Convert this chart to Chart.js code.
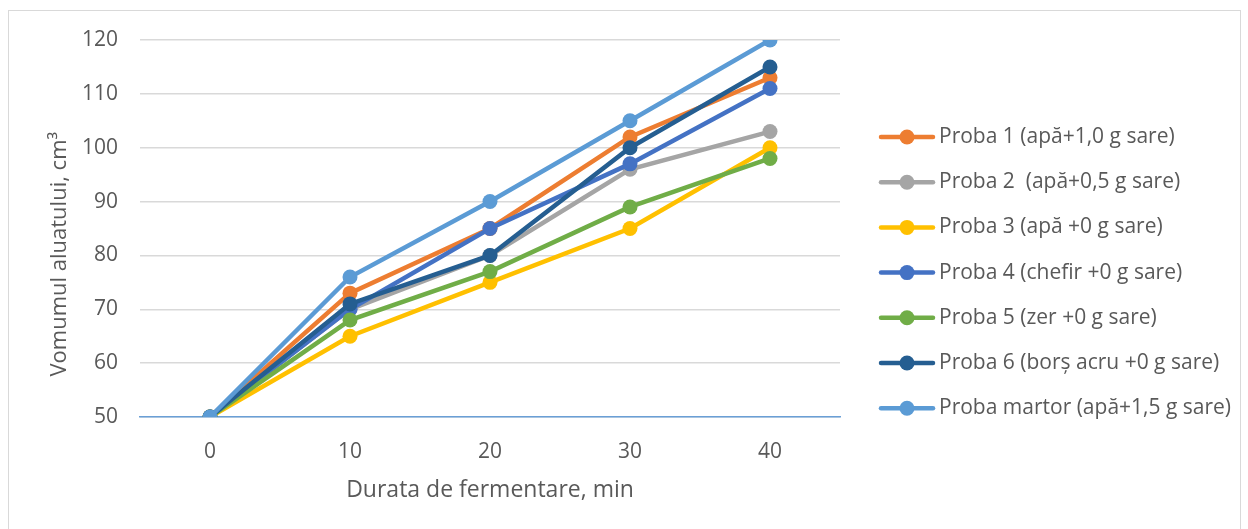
<!DOCTYPE html>
<html>
<head>
<meta charset="utf-8">
<script src="https://cdn.jsdelivr.net/npm/chart.js@4.4.0/dist/chart.umd.min.js"></script>
<style>
html, body { margin: 0; padding: 0; background: #fff; }
#wrap { position: relative; width: 1248px; height: 529px; overflow: hidden; }
#frame { position: absolute; left: 8px; top: 10px; width: 1233px; height: 530px; border: 1px solid #d9d9d9; box-sizing: border-box; }
canvas { position: absolute; left: 0; top: 0; }
</style>
</head>
<body>
<div id="wrap">
 <div id="frame"></div>
 <canvas id="volumeChart" width="1248" height="529"></canvas>
</div>
<script>
var minutes = ["0", "10", "20", "30", "40"];

var proba1 = [50, 73, 85, 102, 113];
var proba2 = [50, 70, 80, 96, 103];
var proba3 = [50, 65, 75, 85, 100];
var proba4 = [50, 70, 85, 97, 111];
var proba5 = [50, 68, 77, 89, 98];
var proba6 = [50, 71, 80, 100, 115];
var probaMartor = [50, 76, 90, 105, 120];

var seriesNames = [
 "Proba 1 (apă+1,0 g sare)",
 "Proba 2  (apă+0,5 g sare)",
 "Proba 3 (apă +0 g sare)",
 "Proba 4 (chefir +0 g sare)",
 "Proba 5 (zer +0 g sare)",
 "Proba 6 (borș acru +0 g sare)",
 "Proba martor (apă+1,5 g sare)",
];

var seriesColors = [
 "#ED7D31", // orange
 "#A5A5A5", // gray
 "#FFC000", // gold
 "#4472C4", // blue
 "#70AD47", // green
 "#255E91", // dark blue
 "#5B9BD5", // light blue
];

var textColor = "#595959";
var fontFamily = "'Open Sans', sans-serif";

var allSeries = [proba1, proba2, proba3, proba4, proba5, proba6, probaMartor];

var dataSets = allSeries.map(function (values, i) {
 return {
  label: seriesNames[i],
  data: values,
  borderColor: seriesColors[i],
  backgroundColor: seriesColors[i],
  borderWidth: 4.5,
  pointRadius: 7.5,
  pointHoverRadius: 7.5,
  pointBorderWidth: 0,
  tension: 0,
  // excel draws the last series on top
  order: allSeries.length - i,
 };
});

// legend like excel: short line with a marker in the middle
var sideLegend = {
 id: "sideLegend",
 afterDraw: function (chart) {
  var ctx = chart.ctx;
  ctx.save();
  chart.data.datasets.forEach(function (ds, i) {
   var y = 137 + i * 45.2;
   ctx.strokeStyle = ds.borderColor;
   ctx.lineWidth = 4.5;
   ctx.lineCap = "round";
   ctx.beginPath();
   ctx.moveTo(881, y);
   ctx.lineTo(933, y);
   ctx.stroke();
   ctx.fillStyle = ds.borderColor;
   ctx.beginPath();
   ctx.arc(907, y, 7.5, 0, Math.PI * 2);
   ctx.fill();
   ctx.fillStyle = textColor;
   ctx.font = "21px " + fontFamily;
   ctx.textBaseline = "middle";
   ctx.textAlign = "left";
   ctx.fillText(ds.label, 939, y);
  });
  ctx.restore();
 },
};

new Chart(document.getElementById("volumeChart"), {
 type: "line",
 data: {
  labels: minutes,
  datasets: dataSets,
 },
 options: {
  responsive: false,
  animation: false,
  layout: {
   padding: { left: 0, top: 40, right: 408, bottom: 0 },
  },
  plugins: {
   legend: { display: false },
   tooltip: { enabled: false },
  },
  scales: {
   x: {
    offset: true,
    afterFit: function (scale) {
     scale.height = 112;
    },
    grid: {
     display: false,
     drawTicks: false,
    },
    border: {
     display: true,
     color: "#6A9FD6",
     width: 1.5,
    },
    ticks: {
     color: textColor,
     padding: 22,
     font: { size: 21, family: fontFamily },
    },
    title: {
     display: true,
     text: "Durata de fermentare, min",
     color: textColor,
     padding: { top: 0, bottom: 25 },
     font: { size: 23, family: fontFamily },
    },
   },
   y: {
    min: 50,
    max: 120,
    afterFit: function (scale) {
     scale.width = 140;
    },
    grid: {
     color: "#d9d9d9",
     lineWidth: 1.5,
     drawTicks: false,
    },
    border: { display: false },
    ticks: {
     stepSize: 10,
     color: textColor,
     padding: 22,
     font: { size: 21, family: fontFamily },
    },
    title: {
     display: true,
     text: "Vomumul aluatului, cm³\u00a0\u00a0\u00a0\u00a0\u00a0\u00a0\u00a0\u00a0\u00a0",
     color: textColor,
     padding: { top: 47, bottom: 0 },
     font: { size: 22, family: fontFamily },
    },
   },
  },
 },
 plugins: [sideLegend],
});
</script>
</body>
</html>
